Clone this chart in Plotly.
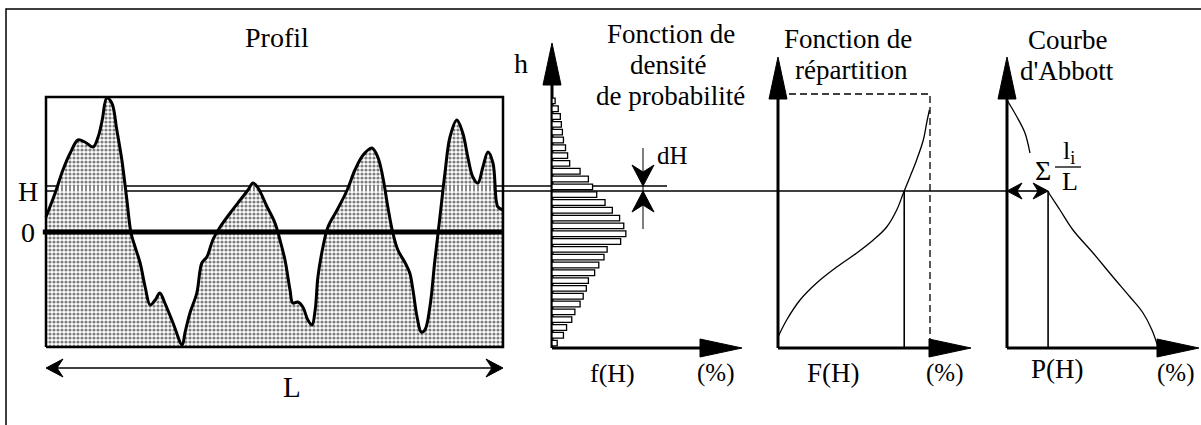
import numpy as np
import plotly.graph_objects as go

# ---------------- data ----------------
# Profile: position as fraction of L, height relative to mean line "0"
profile_x = [0.0, 0.020, 0.037, 0.053, 0.070, 0.085, 0.103, 0.114, 0.123, 0.133, 0.144, 0.155,
             0.166, 0.177, 0.186, 0.195, 0.206, 0.217, 0.228, 0.239, 0.249, 0.260, 0.278, 0.298,
             0.304, 0.315, 0.330, 0.341, 0.352, 0.365, 0.381, 0.403, 0.425, 0.442, 0.453, 0.464,
             0.484, 0.501, 0.512, 0.523, 0.534, 0.540, 0.551, 0.562, 0.573, 0.582, 0.589, 0.595,
             0.606, 0.617, 0.637, 0.659, 0.676, 0.694, 0.713, 0.726, 0.737, 0.748, 0.759, 0.770,
             0.786, 0.796, 0.803, 0.812, 0.821, 0.829, 0.840, 0.851, 0.862, 0.873, 0.884, 0.899,
             0.912, 0.923, 0.934, 0.945, 0.956, 0.967, 0.978, 0.985, 0.989, 1.0]
profile_h = [15, 39, 62, 79, 92, 90, 85, 95, 112, 134, 129, 102,
             72, 32, -1, -15, -31, -55, -73, -68, -61, -71, -91, -113,
             -101, -81, -61, -31, -25, -8, 5, 19, 32, 42, 49, 44,
             25, 9, -8, -28, -58, -71, -70, -75, -88, -93, -78, -45,
             -15, 5, 22, 42, 62, 77, 84, 75, 55, 25, -1, -18,
             -31, -41, -58, -85, -100, -98, -75, -28, 15, 59, 95, 112,
             99, 75, 55, 49, 65, 80, 69, 32, 25, 22]

# Probability density f(H) in %, bins from bottom to top of the profile
density_f = [0.5, 1.1, 1.4, 1.9, 2.2, 2.7, 3.0, 3.3, 3.5, 4.1, 4.5, 5.0, 5.3, 6.6, 7.1, 6.9,
             6.5, 5.8, 5.1, 4.3, 3.9, 3.5, 2.7, 1.7, 1.5, 1.3, 1.1, 1.0, 0.9, 0.8, 0.6, 0.3]

# Cumulative distribution F(H) in %
cdf_F = [0, 5.7, 14.5, 25.4, 38.6, 51.8, 62.7, 71.5, 78.1, 82.5, 86.8, 91.2, 95.6, 97.8, 99.6]
cdf_h = [-105, -88, -68, -51, -35, -21, -8, 5, 22, 39, 55, 72, 92, 109, 122]

# Abbott curve P(H) in %
abbott_P = [0, 6.6, 11.9, 15.2, 21.9, 27.8, 35.1, 43.7, 57.0, 70.2, 81.5, 90.1, 96.0, 100]
abbott_h = [132, 115, 99, 79, 59, 39, 22, 2, -21, -45, -65, -81, -98, -115]

H_LEVEL = 41          # height H
DH = 5                # band dH
H_BOTTOM, H_TOP = -115, 135

# ---------------- geometry (pixels) ----------------
W, HT = 1201, 425
Y0 = 232                       # pixel row of height 0
PROF_X0, PROF_X1 = 46, 503
DENS_X0, DENS_S = 552, 10.4
CDF_X0, CDF_S = 778, 1.52
ABB_X0, ABB_S = 1007, 1.51
AXIS_BOTTOM = -116
FONT = "Liberation Serif"


def rng(x0, s):
    return [(0 - x0) / s, (W - x0) / s]


def ln(xs, ys, ax="x", width=1.5, dash=None, shape="linear"):
    return go.Scatter(x=xs, y=ys, xaxis=ax, yaxis="y", mode="lines",
                      line=dict(color="black", width=width, dash=dash, shape=shape),
                      hoverinfo="skip", showlegend=False)


def poly(xs, ys, ax="x"):
    return go.Scatter(x=xs, y=ys, xaxis=ax, yaxis="y", mode="lines", fill="toself",
                      fillcolor="black", line=dict(color="black", width=1),
                      hoverinfo="skip", showlegend=False)


def up_head(x, tip):
    return [x - 9, x, x + 9, x - 9], [tip - 42, tip, tip - 42, tip - 42]


def right_head(tip, h):
    return [tip - 42, tip, tip - 42, tip - 42], [h + 9, h, h - 9, h + 9]


def stealth(tx, ty, dx, dy, length, hw, notch):
    """barbed arrow head with tip (tx, ty) pointing along unit (dx, dy)."""
    px, py = -dy, dx
    bx, by = tx - dx * length, ty - dy * length
    xs = [tx, bx + px * hw, tx - dx * (length - notch), bx - px * hw, tx]
    ys = [ty, by + py * hw, ty - dy * (length - notch), by - py * hw, ty]
    return xs, ys


traces = []
stipple = dict(shape=".", size=4, solidity=0.5, fgcolor="black", bgcolor="white")

# ---- profile panel ----
traces.append(go.Scatter(x=[0, 1], y=[H_BOTTOM, H_BOTTOM], xaxis="x2", yaxis="y", mode="lines",
                         line=dict(width=0), hoverinfo="skip", showlegend=False))
traces.append(go.Scatter(x=profile_x, y=profile_h, xaxis="x2", yaxis="y", mode="lines",
                         fill="tonexty", fillpattern=stipple, fillcolor="white",
                         line=dict(width=0, shape="spline", smoothing=0.8),
                         hoverinfo="skip", showlegend=False))
# hatched band (material between H and H+dH)
xs = np.linspace(0, 1, 2001)
inside = np.interp(xs, profile_x, profile_h) > H_LEVEL + DH
edges = np.flatnonzero(np.diff(inside.astype(int)))
starts = [xs[0]] if inside[0] else []
ends = []
for e in edges:
    if inside[e + 1]:
        starts.append(xs[e + 1])
    else:
        ends.append(xs[e])
if inside[-1]:
    ends.append(xs[-1])
for a, b in zip(starts, ends):
    traces.append(go.Scatter(x=[a, b, b, a, a], y=[H_LEVEL, H_LEVEL, H_LEVEL + DH, H_LEVEL + DH, H_LEVEL],
                             xaxis="x2", yaxis="y", mode="lines", fill="toself",
                             fillpattern=dict(shape="|", size=4, solidity=0.45, fgcolor="black", bgcolor="white"),
                             fillcolor="white", line=dict(width=0), hoverinfo="skip", showlegend=False))

# H and H+dH lines
traces.append(ln([PROF_X0, ABB_X0], [H_LEVEL, H_LEVEL], width=1.6))
traces.append(ln([PROF_X0, 667], [H_LEVEL + DH, H_LEVEL + DH], width=1.6))
# mean line
traces.append(ln([-0.007, 1], [0, 0], ax="x2", width=5))
# profile outline
traces.append(ln(profile_x, profile_h, ax="x2", width=3, shape="spline"))
# box
traces.append(go.Scatter(x=[0, 1, 1, 0, 0], y=[H_BOTTOM, H_BOTTOM, H_TOP, H_TOP, H_BOTTOM],
                         xaxis="x2", yaxis="y", mode="lines",
                         line=dict(color="black", width=2.5), hoverinfo="skip", showlegend=False))
# L double arrow
L_H = -136
traces.append(ln([PROF_X0 + 8, PROF_X1 - 8], [L_H, L_H], width=1.5))
traces.append(poly(*stealth(PROF_X1, L_H, 1, 0, 17, 9, 6)))
traces.append(poly(*stealth(PROF_X0, L_H, -1, 0, 17, 9, 6)))

# ---- density panel ----
bin_edges = np.linspace(H_BOTTOM, H_TOP, len(density_f) + 1)
centers = (bin_edges[:-1] + bin_edges[1:]) / 2
bw = bin_edges[1] - bin_edges[0]
traces.append(go.Bar(x=density_f, y=centers, orientation="h", width=bw * 0.72, base=0,
                     xaxis="x3", yaxis="y",
                     marker=dict(color="white", line=dict(color="black", width=1.3)),
                     hoverinfo="skip", showlegend=False))
traces.append(ln([DENS_X0, DENS_X0], [AXIS_BOTTOM, 189 - 40], width=3))
traces.append(poly(*up_head(DENS_X0, 189)))
traces.append(ln([DENS_X0, 742 - 40], [AXIS_BOTTOM, AXIS_BOTTOM], width=3))
traces.append(poly(*right_head(742, AXIS_BOTTOM)))
# dH marker
traces.append(ln([643, 643], [H_LEVEL + DH + 38, H_LEVEL - 38], width=1))
traces.append(poly(*stealth(643, H_LEVEL + DH, 0, -1, 21, 11, 7)))
traces.append(poly(*stealth(643, H_LEVEL, 0, 1, 21, 11, 7)))

# ---- cumulative distribution panel ----
F_H = float(np.interp(H_LEVEL, cdf_h, cdf_F))
traces.append(ln([0, 100, 100], [138, 138, AXIS_BOTTOM], ax="x4", width=1.3, dash="7px,4px"))
traces.append(ln(cdf_F, cdf_h, ax="x4", width=1.3, shape="spline"))
traces.append(ln([F_H, F_H], [H_LEVEL, AXIS_BOTTOM], ax="x4", width=1.6))
traces.append(ln([CDF_X0, CDF_X0], [AXIS_BOTTOM, 175 - 40], width=3))
traces.append(poly(*up_head(CDF_X0, 175)))
traces.append(ln([CDF_X0, 971 - 40], [AXIS_BOTTOM, AXIS_BOTTOM], width=3))
traces.append(poly(*right_head(971, AXIS_BOTTOM)))

# ---- Abbott panel ----
P_H = float(np.interp(H_LEVEL, abbott_h[::-1], abbott_P[::-1]))
seg1 = [(p, h) for p, h in zip(abbott_P, abbott_h) if h >= 75]
seg2 = [(P_H, H_LEVEL)] + [(p, h) for p, h in zip(abbott_P, abbott_h) if h < H_LEVEL]
traces.append(ln([p for p, _ in seg1], [h for _, h in seg1], ax="x5", width=1.3, shape="spline"))
traces.append(ln([p for p, _ in seg2], [h for _, h in seg2], ax="x5", width=1.3, shape="spline"))
traces.append(ln([P_H, P_H], [H_LEVEL, AXIS_BOTTOM], ax="x5", width=1.6))
traces.append(ln([ABB_X0, ABB_X0], [AXIS_BOTTOM, 175 - 40], width=3))
traces.append(poly(*up_head(ABB_X0, 175)))
traces.append(ln([ABB_X0, 1199 - 40], [AXIS_BOTTOM, AXIS_BOTTOM], width=3))
traces.append(poly(*right_head(1199, AXIS_BOTTOM)))
# double arrow for sum l_i / L
PH_PX = ABB_X0 + P_H * ABB_S
traces.append(ln([ABB_X0 + 8, PH_PX - 8], [H_LEVEL, H_LEVEL], width=1.6))
traces.append(poly(*stealth(PH_PX, H_LEVEL, 1, 0, 15, 8, 5)))
traces.append(poly(*stealth(ABB_X0, H_LEVEL, -1, 0, 15, 8, 5)))
# fraction bar of sum l_i / L
traces.append(ln([1055, 1081], [65, 65], width=1.3))

# outer frame
traces.append(ln([6, 6, W], [-193, 223, 223], width=1.5))

fig = go.Figure(traces)


def txt(x, y, s, size=27, xref="x"):
    return dict(x=x, y=y, xref=xref, yref="y", text=s, showarrow=False,
                font=dict(family=FONT, size=size, color="black"),
                xanchor="center", yanchor="middle")


annotations = [
    txt(277, 195, "Profil", 28),
    txt(28, 41, "H", 28),
    txt(28, 0, "0", 28),
    txt(292, -155, "L", 29),
    txt(521, 169, "h", 28),
    txt(671, 198, "Fonction de"),
    txt(668, 167, "densité"),
    txt(670, 136, "de probabilité"),
    txt(672, 77, "dH", 25),
    txt(612, -141, "f(H)", 26),
    txt(715, -141, "(%)", 25),
    txt(848, 193, "Fonction de"),
    txt(851, 162, "répartition"),
    txt(833, -141, "F(H)"),
    txt(944, -141, "(%)", 25),
    txt(1068, 192, "Courbe"),
    txt(1067, 161, "d'Abbott"),
    txt(1057, -137, "P(H)"),
    txt(1175, -141, "(%)", 25),
    txt(1043, 62, "Σ", 28),
    txt(1069, 80, "l<sub>i</sub>", 26),
    txt(1070, 51, "L", 26),
]

hidden = dict(visible=False, showgrid=False, zeroline=False, fixedrange=True)
fig.update_layout(
    width=W, height=HT, margin=dict(l=0, r=0, t=0, b=0),
    paper_bgcolor="white", plot_bgcolor="white", showlegend=False,
    xaxis=dict(range=[0, W], domain=[0, 1], anchor="y", **hidden),
    xaxis2=dict(range=rng(PROF_X0, PROF_X1 - PROF_X0), overlaying="x", anchor="y", **hidden),
    xaxis3=dict(range=rng(DENS_X0, DENS_S), overlaying="x", anchor="y", **hidden),
    xaxis4=dict(range=rng(CDF_X0, CDF_S), overlaying="x", anchor="y", **hidden),
    xaxis5=dict(range=rng(ABB_X0, ABB_S), overlaying="x", anchor="y", **hidden),
    yaxis=dict(range=[Y0 - HT, Y0], domain=[0, 1], anchor="x", **hidden),
    annotations=annotations,
)

fig.write_html("out.html", config={"displayModeBar": False},
               post_script="document.body.style.margin='0px';document.body.style.overflow='hidden';")
